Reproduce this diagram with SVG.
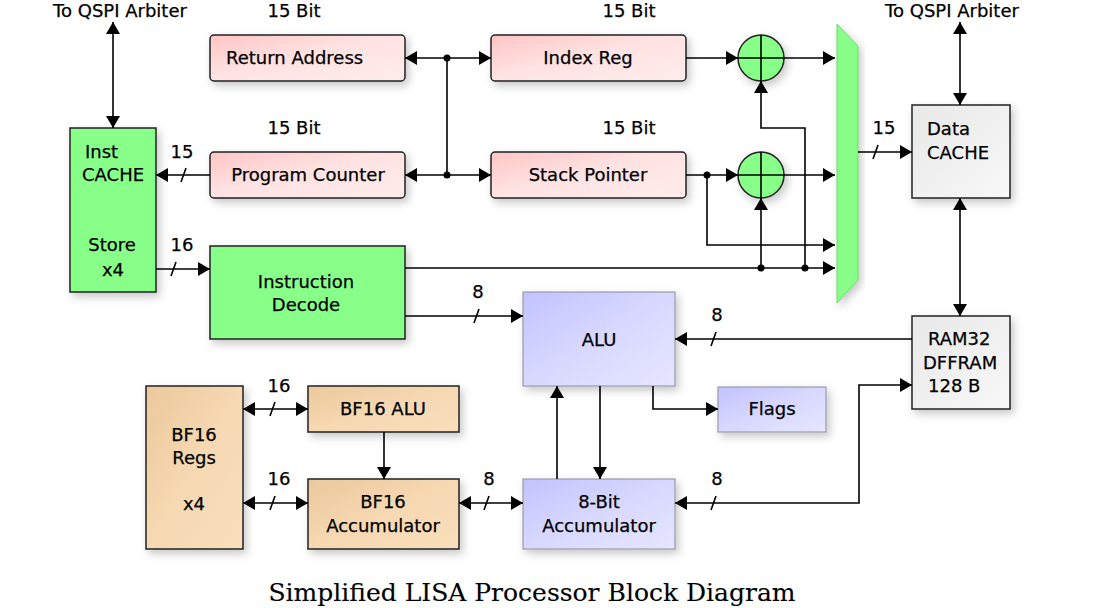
<svg xmlns="http://www.w3.org/2000/svg" width="1101" height="608" viewBox="0 0 1101 608">
<style>
text{font-family:"DejaVu Sans","Liberation Sans",sans-serif;font-size:18px;fill:#000;stroke:#000;stroke-width:0.25}
.c{text-anchor:middle}
.ln{fill:none;stroke:#000;stroke-width:1.6}
.ar{marker-end:url(#ah)}
.dar{marker-start:url(#ah);marker-end:url(#ah)}
.box{stroke:#222;stroke-width:1.5}
.lav{stroke:#9a9aaa;stroke-width:1.2;fill:url(#gLav)}
.pink{fill:url(#gPink)}
.tan{fill:url(#gTan)}
.gray{fill:url(#gGray)}
.grn{fill:#88ff88}
.dot{fill:#000}
.sh{filter:url(#shadow)}
.title{font-family:"DejaVu Serif","Liberation Serif",serif;font-size:25px;stroke-width:0.15}
</style>
<defs>
<marker id="ah" viewBox="0 0 12 14" refX="12" refY="7" markerWidth="12" markerHeight="14" markerUnits="userSpaceOnUse" orient="auto-start-reverse">
<path d="M0,0 L12,7 L0,14 z" fill="#000"/>
</marker>
<filter id="shadow" x="-20%" y="-20%" width="150%" height="150%">
<feDropShadow dx="3" dy="4" stdDeviation="4" flood-color="#000" flood-opacity="0.22"/>
</filter>
<linearGradient id="gPink" x1="0" y1="0" x2="1" y2="1">
<stop offset="0" stop-color="#ffc4c4"/><stop offset="0.45" stop-color="#ffe2e2"/><stop offset="1" stop-color="#ffecec"/>
</linearGradient>
<linearGradient id="gLav" x1="0" y1="0" x2="1" y2="1">
<stop offset="0" stop-color="#c2c2ff"/><stop offset="0.5" stop-color="#d8d8ff"/><stop offset="1" stop-color="#e6e6ff"/>
</linearGradient>
<linearGradient id="gTan" x1="0" y1="0" x2="1" y2="1">
<stop offset="0" stop-color="#ecc89c"/><stop offset="0.5" stop-color="#f6d8b2"/><stop offset="1" stop-color="#f9dfbc"/>
</linearGradient>
<linearGradient id="gGray" x1="0" y1="0" x2="1" y2="1">
<stop offset="0" stop-color="#e8e8e8"/><stop offset="1" stop-color="#f8f8f8"/>
</linearGradient>
</defs>
<rect width="1101" height="608" fill="#fff"/>

<g id="instcache">
<rect class="box grn sh" x="70" y="128" width="86" height="164"/>
<text x="85" y="158">Inst</text>
<text x="82" y="181">CACHE</text>
<text class="c" x="112" y="251">Store</text>
<text class="c" x="113" y="276">x4</text>
</g>
<g id="returnaddr">
<rect class="box pink sh" x="210" y="35" width="195" height="46" rx="4"/>
<text x="226" y="64">Return Address</text>
</g>
<g id="pc">
<rect class="box pink sh" x="210" y="152" width="195" height="46" rx="4"/>
<text class="c" x="308" y="181">Program Counter</text>
</g>
<g id="indexreg">
<rect class="box pink sh" x="491" y="35" width="195" height="46" rx="4"/>
<text class="c" x="588" y="64">Index Reg</text>
</g>
<g id="sp">
<rect class="box pink sh" x="491" y="152" width="195" height="46" rx="4"/>
<text class="c" x="588" y="181">Stack Pointer</text>
</g>
<g id="adder1">
<circle class="box grn sh" cx="761" cy="58" r="23"/>
<path class="ln" d="M738,58 H784 M761,35 V81" stroke-width="1.3"/>
</g>
<g id="adder2">
<circle class="box grn sh" cx="761" cy="175" r="23"/>
<path class="ln" d="M738,175 H784 M761,152 V198" stroke-width="1.3"/>
</g>
<g id="mux">
<polygon class="sh" points="837,24 858,46 858,280 837,303" fill="#88ff88" stroke="#6cd86c" stroke-width="1"/>
</g>
<g id="datacache">
<rect class="box gray sh" x="912" y="105" width="98" height="93"/>
<text x="927" y="135">Data</text>
<text x="927" y="159">CACHE</text>
</g>
<g id="ram32">
<rect class="box gray sh" x="912" y="316" width="98" height="93"/>
<text x="928" y="345">RAM32</text>
<text x="923" y="369">DFFRAM</text>
<text x="928" y="392">128 B</text>
</g>
<g id="instdecode">
<rect class="box grn sh" x="210" y="246" width="195" height="93"/>
<text class="c" x="306" y="288">Instruction</text>
<text class="c" x="306" y="311">Decode</text>
</g>
<g id="alu">
<rect class="lav sh" x="523" y="292" width="152" height="94"/>
<text class="c" x="599" y="346">ALU</text>
</g>
<g id="flags">
<rect class="lav sh" x="718" y="387" width="108" height="45"/>
<text class="c" x="772" y="415">Flags</text>
</g>
<g id="acc8">
<rect class="lav sh" x="523" y="479" width="152" height="70"/>
<text class="c" x="599" y="508">8-Bit</text>
<text class="c" x="599" y="532">Accumulator</text>
</g>
<g id="bf16regs">
<rect class="box tan sh" x="146" y="386" width="97" height="163"/>
<text class="c" x="194" y="441">BF16</text>
<text class="c" x="194" y="464">Regs</text>
<text class="c" x="194" y="510">x4</text>
</g>
<g id="bf16alu">
<rect class="box tan sh" x="308" y="386" width="151" height="46"/>
<text class="c" x="383" y="415">BF16 ALU</text>
</g>
<g id="bf16acc">
<rect class="box tan sh" x="308" y="479" width="151" height="70"/>
<text class="c" x="383" y="508">BF16</text>
<text class="c" x="383" y="532">Accumulator</text>
</g>

<g id="connectors">
<path class="ln dar" d="M113,128 V22"/>
<path class="ln dar" d="M960,105 V22"/>
<path class="ln dar" d="M960,198 V316"/>
<path class="ln dar" d="M405,58 H491"/>
<path class="ln dar" d="M405,175 H491"/>
<path class="ln" d="M447,58 V175"/>
<circle class="dot" cx="447" cy="58" r="3.5"/>
<circle class="dot" cx="447" cy="175" r="3.5"/>
<path class="ln ar" d="M210,175 H156"/>
<path class="ln ar" d="M156,269 H210"/>
<path class="ln ar" d="M686,58 H738"/>
<path class="ln ar" d="M784,58 H835"/>
<path class="ln ar" d="M805,268 V128 H761 V81"/>
<path class="ln ar" d="M686,175 H738"/>
<path class="ln ar" d="M784,175 H835"/>
<path class="ln ar" d="M707,175 V245 H835"/>
<circle class="dot" cx="707" cy="175" r="3.5"/>
<path class="ln ar" d="M761,268 V198"/>
<path class="ln ar" d="M405,268 H835"/>
<circle class="dot" cx="761" cy="268" r="3.5"/>
<circle class="dot" cx="805" cy="268" r="3.5"/>
<path class="ln ar" d="M858,152 H912"/>
<path class="ln ar" d="M405,316 H523"/>
<path class="ln ar" d="M912,339 H675"/>
<path class="ln ar" d="M653,386 V409 H718"/>
<path class="ln ar" d="M600,386 V479"/>
<path class="ln ar" d="M557,479 V386"/>
<path class="ln dar" d="M675,503 H859 V385 H912"/>
<path class="ln dar" d="M243,409 H308"/>
<path class="ln dar" d="M243,503 H308"/>
<path class="ln ar" d="M384,432 V479"/>
<path class="ln dar" d="M459,503 H523"/>
<g class="ln">
<path d="M181,182 L186,168"/>
<path d="M171,276 L176,262"/>
<path d="M873,159 L878,145"/>
<path d="M474,323 L479,309"/>
<path d="M711,346 L716,332"/>
<path d="M270,416 L275,402"/>
<path d="M270,510 L275,496"/>
<path d="M484,510 L489,496"/>
<path d="M711,510 L716,496"/>
</g>
</g>

<g id="labels">
<text class="c" x="120" y="17">To QSPI Arbiter</text>
<text class="c" x="952" y="17">To QSPI Arbiter</text>
<text class="c" x="294" y="17">15 Bit</text>
<text class="c" x="629" y="17">15 Bit</text>
<text class="c" x="294" y="134">15 Bit</text>
<text class="c" x="629" y="134">15 Bit</text>
<text class="c" x="182" y="158">15</text>
<text class="c" x="182" y="251">16</text>
<text class="c" x="884" y="134">15</text>
<text class="c" x="478" y="298">8</text>
<text class="c" x="717" y="321">8</text>
<text class="c" x="279" y="392">16</text>
<text class="c" x="279" y="485">16</text>
<text class="c" x="489" y="485">8</text>
<text class="c" x="717" y="485">8</text>
<text class="title c" x="532" y="601">Simplified LISA Processor Block Diagram</text>
</g>
</svg>
